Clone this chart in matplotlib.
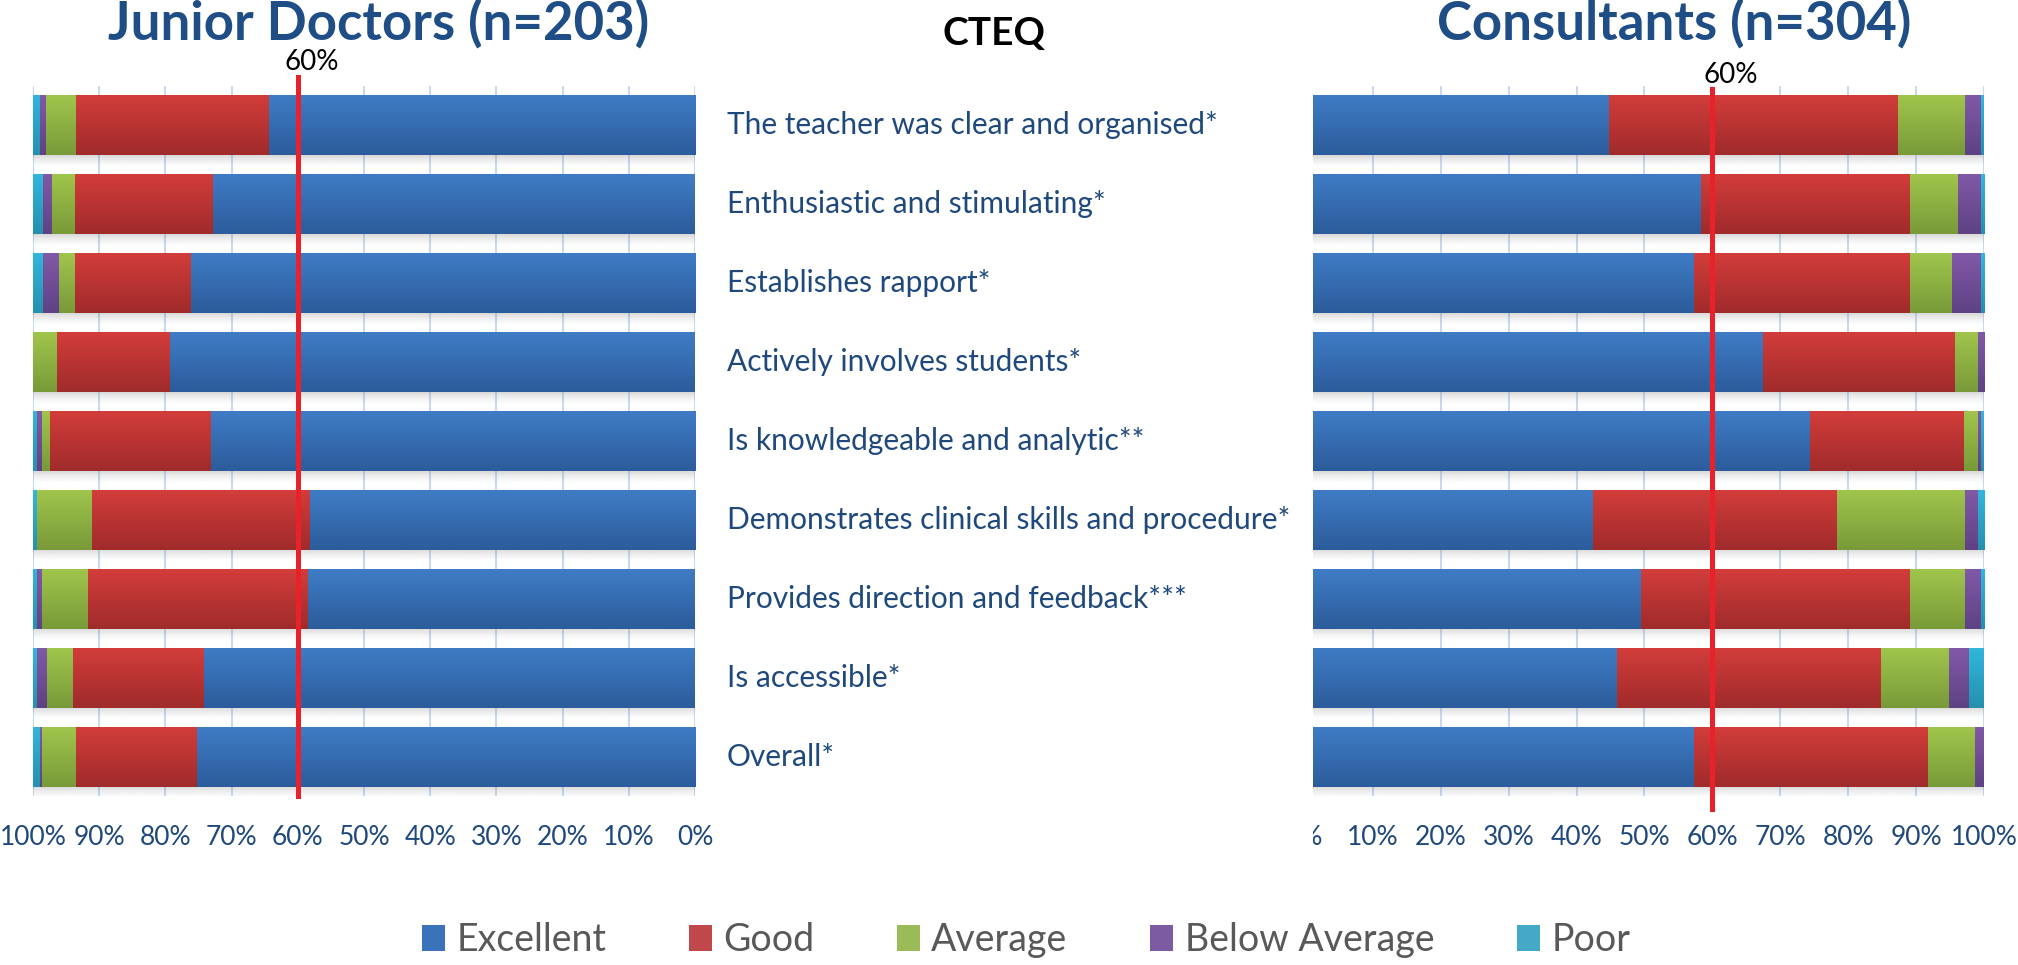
"""CTEQ ratings: junior doctors vs consultants, mirrored stacked percentage bars."""
import numpy as np
import matplotlib.pyplot as plt
from matplotlib.colors import LinearSegmentedColormap, to_rgb
from matplotlib.patches import Patch
from matplotlib.transforms import blended_transform_factory, Bbox, TransformedBbox

plt.rcParams["font.family"] = ["Lato", "DejaVu Sans"]

categories = [
    "The teacher was clear and organised*",
    "Enthusiastic and stimulating*",
    "Establishes rapport*",
    "Actively involves students*",
    "Is knowledgeable and analytic**",
    "Demonstrates clinical skills and procedure*",
    "Provides direction and feedback***",
    "Is accessible*",
    "Overall*",
]
ratings = ["Excellent", "Good", "Average", "Below Average", "Poor"]

junior_excellent = [64.4, 72.9, 76.3, 79.4, 73.3, 58.2, 58.6, 74.3, 75.3]
junior_good = [29.3, 20.8, 17.4, 17.1, 24.2, 32.9, 33.1, 19.8, 18.3]
junior_average = [4.4, 3.4, 2.4, 3.5, 1.1, 8.4, 6.9, 3.8, 5.1]
junior_below = [0.9, 1.5, 2.5, 0.0, 0.9, 0.0, 0.9, 1.6, 0.3]
junior_poor = [1.0, 1.4, 1.4, 0.0, 0.5, 0.5, 0.5, 0.5, 1.0]

consultant_excellent = [44.8, 58.3, 57.3, 67.4, 74.4, 42.4, 49.5, 46.0, 57.3]
consultant_good = [42.6, 30.8, 31.8, 28.3, 22.7, 36.0, 39.6, 38.9, 34.5]
consultant_average = [9.8, 7.0, 6.2, 3.4, 2.0, 18.8, 8.1, 9.9, 6.9]
consultant_below = [2.4, 3.4, 4.2, 0.9, 0.5, 1.9, 2.3, 3.0, 1.3]
consultant_poor = [0.4, 0.5, 0.5, 0.0, 0.4, 0.9, 0.5, 2.2, 0.0]

threshold = 60
tick_values = list(range(0, 101, 10))

colors_top = ["#3F7CC5", "#D23D3B", "#A0C54C", "#8159A7", "#31B6DC"]
colors_bottom = ["#2C5C9B", "#A02B2B", "#799A39", "#5E4284", "#2590AE"]
legend_colors = ["#3B73BB", "#C0474A", "#9BBB59", "#7C5BA3", "#43A9C6"]
text_blue = "#1F497D"
title_blue = "#1F4E86"
grid_blue = "#C9DAF0"
line_red = "#E8212A"

BAR_H = 0.76


def draw_panel(ax, series, reverse):
    y = np.arange(len(categories))[::-1]
    left = np.zeros(len(categories))
    for k, values in enumerate(series):
        values = np.array(values)
        bars = ax.barh(y, values, left=left, height=BAR_H, color=colors_bottom[k], zorder=2)
        cmap = LinearSegmentedColormap.from_list(f"g{k}", [colors_top[k], colors_bottom[k]])
        for bar in bars:
            if bar.get_width() <= 0:
                continue
            x0, y0 = bar.get_x(), bar.get_y()
            ax.imshow(np.linspace(0, 1, 64)[:, None], cmap=cmap, aspect="auto", origin="upper",
                      extent=(x0, x0 + bar.get_width(), y0, y0 + bar.get_height()),
                      zorder=2.5, interpolation="bilinear")
        left += values

    # soft drop shadow under each row
    shade = np.zeros((32, 1, 4))
    shade[..., :3] = to_rgb("#808080")
    shade[:, 0, 3] = np.linspace(0.45, 0.0, 32) ** 1.5
    for yi in y:
        ax.imshow(shade, aspect="auto", origin="upper", zorder=1.5, interpolation="bilinear",
                  extent=(0, 100, yi - BAR_H / 2 - 0.16, yi - BAR_H / 2))

    ax.set_ylim(-0.5, len(categories) - 0.5)
    ax.set_xticks(tick_values)
    ax.set_xticklabels([f"{v}%" for v in tick_values])
    ax.set_yticks([])
    ax.xaxis.grid(True, color=grid_blue, linewidth=1.5, zorder=0)
    ax.set_axisbelow(True)
    ax.tick_params(axis="x", length=0, pad=21, labelsize=19, labelcolor=text_blue)
    for side in ax.spines.values():
        side.set_visible(False)
    if reverse:
        ax.set_xlim(100, 0)
    return y


fig = plt.figure(figsize=(20.18, 9.65), dpi=100)
W, H = 2018, 965

ax1 = fig.add_axes([33 / W, 1 - 796 / H, 662 / W, 710 / H])
ax2 = fig.add_axes([1313 / W, 1 - 796 / H, 671 / W, 710 / H])

rows = draw_panel(ax1, [junior_excellent, junior_good, junior_average, junior_below, junior_poor], True)
draw_panel(ax2, [consultant_excellent, consultant_good, consultant_average, consultant_below,
                 consultant_poor], False)
ax2.set_xlim(1.2, 100)

# right panel was cropped in the source: only the edge of "0%" shows
zero = fig.text(0, -29 / 710, "0%", transform=blended_transform_factory(ax2.transData, ax2.transAxes),
                ha="center", va="top", fontsize=19, color=text_blue, clip_on=True)
zero.set_clip_box(TransformedBbox(Bbox([[1313 / W, 0], [1, 1]]), fig.transFigure))

ax1.axvline(threshold, ymin=0, ymax=1 + 9 / 710, color=line_red, linewidth=3.6, zorder=4, clip_on=False)
ax2.axvline(threshold, ymin=-13 / 710, ymax=1 - 3 / 710, color=line_red, linewidth=3.6, zorder=4,
            clip_on=False)
ax1.annotate(f"{threshold}%", xy=(threshold, (796 - 70) / 710), xycoords=("data", "axes fraction"),
             xytext=(10, 0), textcoords="offset points", ha="center", va="baseline", fontsize=20)
ax2.annotate(f"{threshold}%", xy=(threshold, (796 - 83) / 710), xycoords=("data", "axes fraction"),
             xytext=(13, 0), textcoords="offset points", ha="center", va="baseline", fontsize=20)

label_tf = blended_transform_factory(fig.transFigure, ax1.transData)
for yi, name in zip(rows, categories):
    fig.text(727 / W, yi, name, transform=label_tf, ha="left", va="center", fontsize=21.5, color=text_blue)

fig.text(379 / W, 1 - 40 / H, "Junior Doctors (n=203)", ha="center", va="baseline", fontsize=38,
         fontweight="bold", color=title_blue)
fig.text(1674 / W, 1 - 40 / H, "Consultants (n=304)", ha="center", va="baseline", fontsize=38,
         fontweight="bold", color=title_blue)
fig.text(994 / W, 1 - 45 / H, "CTEQ", ha="center", va="baseline", fontsize=28, fontweight="bold",
         color="black")

handles = [Patch(facecolor=c) for c in legend_colors]
fig.legend(handles, ratings, ncol=5, loc="center", bbox_to_anchor=(1026 / W, 1 - 940 / H),
           frameon=False, fontsize=27, labelcolor="#595959", handlelength=0.62, handleheight=0.68,
           handletextpad=0.3, columnspacing=2.2)

fig.savefig("out.png", dpi=100)
print("Saved out.png")
